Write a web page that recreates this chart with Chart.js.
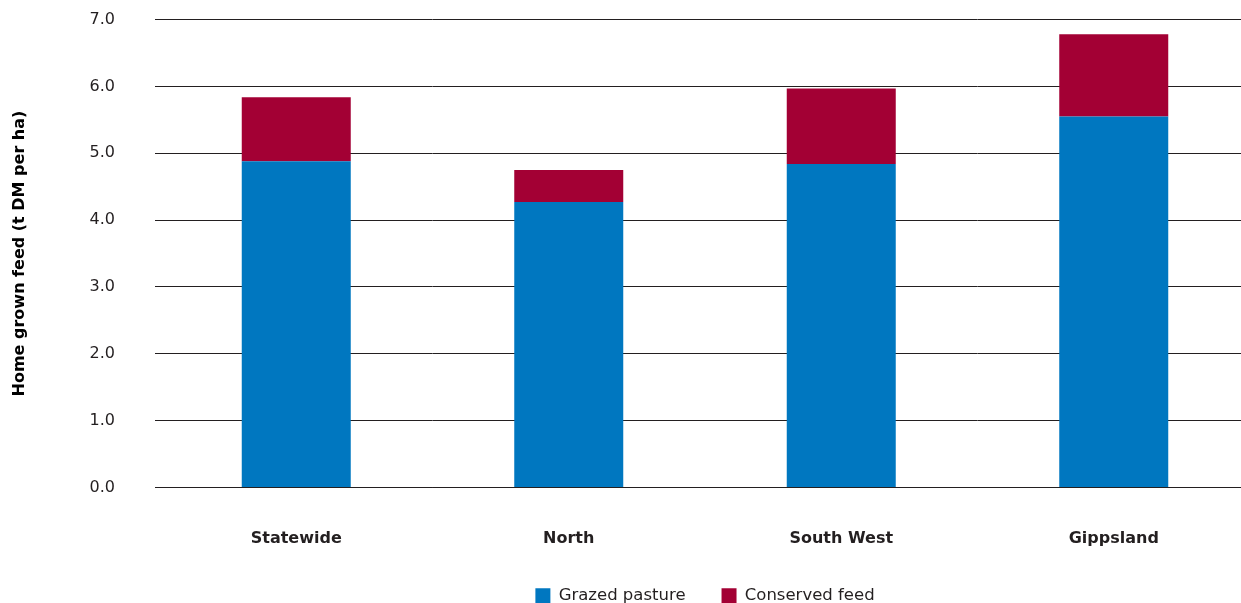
<!DOCTYPE html>
<html>
<head>
<meta charset="utf-8">
<script src="https://cdn.jsdelivr.net/npm/chart.js"></script>
<style>
    html, body { margin: 0; padding: 0; background: #fff; overflow: hidden; }
    #wrap { position: absolute; left: 0; top: -30px; width: 1250px; height: 644px; }
</style>
</head>
<body>
<div id="wrap"><canvas id="feedChart"></canvas></div>
<script>
    // Home grown feed by region, t DM per ha
    const regions = ['Statewide', 'North', 'South West', 'Gippsland'];
    const grazedPasture = [4.88, 4.27, 4.84, 5.55];
    const conservedFeed = [0.96, 0.48, 1.13, 1.23];
    const yTicks = [0, 1, 2, 3, 4, 5, 6, 7];

    const FONT = '"DejaVu Sans", sans-serif';
    const INK = '#231f20';

    new Chart(document.getElementById('feedChart'), {
        type: 'bar',
        data: {
            labels: regions,
            datasets: [{
                label: 'Grazed pasture',
                data: grazedPasture,
                backgroundColor: '#0077c0'
            }, {
                label: 'Conserved feed',
                data: conservedFeed,
                backgroundColor: '#a30034'
            }]
        },
        options: {
            responsive: true,
            maintainAspectRatio: false,
            animation: false,
            barPercentage: 0.4,
            categoryPercentage: 1.0,
            layout: { padding: 0 },
            plugins: {
                tooltip: { enabled: false },
                legend: {
                    position: 'bottom',
                    fullSize: false,
                    labels: {
                        font: { family: FONT, size: 16.5 },
                        color: INK,
                        boxWidth: 15,
                        boxHeight: 15,
                        padding: 36
                    }
                }
            },
            scales: {
                x: {
                    stacked: true,
                    z: 1, // baseline sits on top of the bars
                    border: { display: true, color: INK, width: 1 },
                    grid: { display: false, drawTicks: false },
                    ticks: {
                        padding: 42,
                        color: INK,
                        font: { family: FONT, size: 16, weight: 'bold' }
                    },
                    afterFit: (scale) => { scale.height = 64; }
                },
                y: {
                    stacked: true,
                    min: 0,
                    max: 7,
                    border: { display: false },
                    grid: { color: INK, lineWidth: 1, drawTicks: true, tickLength: 5 },
                    afterBuildTicks: (scale) => {
                        scale.ticks = yTicks.map(v => ({ value: v }));
                    },
                    ticks: {
                        padding: 40,
                        color: INK,
                        font: { family: FONT, size: 16 },
                        callback: (v) => Number(v).toFixed(1)
                    },
                    title: {
                        display: true,
                        text: 'Home grown feed (t DM per ha)',
                        color: '#000',
                        font: { family: FONT, size: 16, weight: 'bold' },
                        padding: { top: 10, bottom: 0 }
                    },
                    afterFit: (scale) => { scale.width = 160; }
                }
            }
        }
    });
</script>
</body>
</html>
